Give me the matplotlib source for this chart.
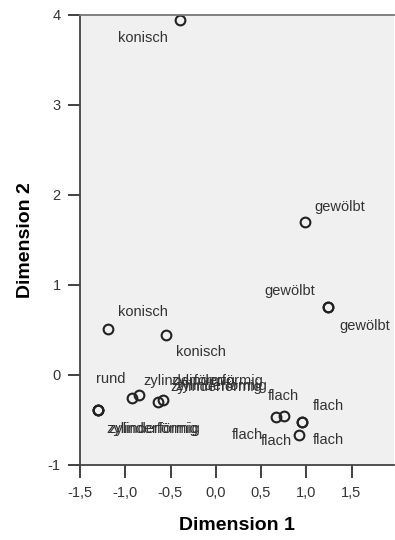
import numpy as np
import matplotlib
matplotlib.use('Agg')
import matplotlib.pyplot as plt
from matplotlib.ticker import FuncFormatter

# object coordinates (dimension 1, dimension 2) and their labels
dim1 = [-0.39, 0.99, 1.24, 1.24, -1.19, -0.55, -1.30, -1.30, -1.30,
        -0.92, -0.85, -0.635, -0.58, 0.67, 0.75, 0.956, 0.956, 0.92]
dim2 = [3.95, 1.70, 0.755, 0.755, 0.51, 0.44, -0.39, -0.39, -0.39,
        -0.25, -0.22, -0.30, -0.28, -0.47, -0.45, -0.517, -0.517, -0.665]
labels = ["konisch", "gewölbt", "gewölbt", "gewölbt", "konisch", "konisch",
          "rund", "zylinderförmig", "zylinderförmig",
          "zylinderförmig", "zylinderförmig", "zylinderförmig", "zylinderförmig",
          "flach", "flach", "flach", "flach", "flach"]
# label offsets in pixels (dx right, dy down) relative to the point
offsets = [(-38, 19), (34, -15), (-38, -16), (37, 19), (35, -17), (35, 17),
           (13, -31), (56, 19), (54, 19),
           (57, -16), (78, -14), (58, -15), (58, -14),
           (-29, 18), (0, -19), (26, -16), (-26, 19), (29, 5)]

plt.rcParams['font.family'] = ['Liberation Sans', 'DejaVu Sans']

fig = plt.figure(figsize=(3.95, 5.4), dpi=100)
ax = fig.add_axes([80/395., 75/540., 314/395., 450/540.])
ax.set_facecolor('#f0f0f0')

ax.plot(dim1, dim2, 'o', markersize=7, markerfacecolor='none',
        markeredgecolor='#222222', markeredgewidth=1.5, clip_on=False)

for x, y, lab, (dx, dy) in zip(dim1, dim2, labels, offsets):
  ax.annotate(lab, (x, y), xytext=(dx*0.72, -dy*0.72), textcoords='offset points',
              ha='center', va='center', fontsize=10.5, color='#333333')

ax.set_xlim(-1.5, -1.5 + 314/90.5)
ax.set_ylim(-1, 4)
ax.set_xticks(np.arange(-1.5, 1.6, 0.5))
ax.set_yticks(np.arange(-1, 5, 1))
ax.xaxis.set_major_formatter(FuncFormatter(lambda v, p: ('%.1f' % v).replace('.', ',')))
ax.yaxis.set_major_formatter(FuncFormatter(lambda v, p: '%d' % round(v)))

for s in ['left', 'bottom']:
  ax.spines[s].set_color('#444444')
  ax.spines[s].set_linewidth(1.3)
ax.spines['top'].set_color('#777777')
ax.spines['top'].set_linewidth(1.3)
ax.spines['right'].set_visible(False)
ax.tick_params(length=9, width=1.3, color='#333333', labelsize=10.5,
               labelcolor='#333333')
ax.tick_params(axis='x', pad=6)
ax.tick_params(axis='y', pad=5)

ax.set_xlabel('Dimension 1', fontsize=14, fontweight='bold', labelpad=12)
ax.set_ylabel('Dimension 2', fontsize=14, fontweight='bold', labelpad=10)

plt.savefig('out.png', dpi=100)
